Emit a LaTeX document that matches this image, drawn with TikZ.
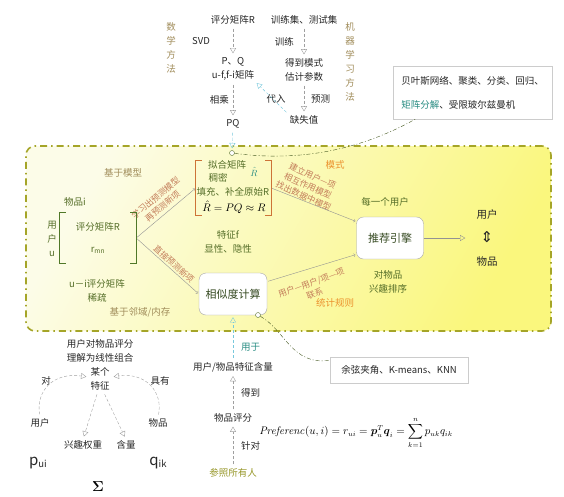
\documentclass[tikz,border=0pt]{standalone}
\usepackage{amsmath, amssymb}
\usepackage[no-math]{fontspec}
\setmainfont{Noto Sans CJK SC}
\newfontfamily\symfont{DejaVu Sans}
\usetikzlibrary{positioning, arrows, shapes, calc}

\definecolor{leafGreen}{RGB}{85,110,40}
\definecolor{tanText}{RGB}{160,140,90}
\definecolor{brownText}{RGB}{195,125,90}
\definecolor{orangeText}{RGB}{235,145,45}
\definecolor{tealText}{RGB}{40,140,130}
\definecolor{cyanLine}{RGB}{120,200,220}
\definecolor{oliveLine}{RGB}{165,165,40}
\definecolor{oliveText}{RGB}{150,150,40}
\definecolor{bracketGreen}{RGB}{80,120,40}
\definecolor{bracketOrange}{RGB}{205,115,55}
\definecolor{boxText}{RGB}{55,75,35}
\definecolor{areaLight}{RGB}{252,252,232}
\definecolor{areaDeep}{RGB}{250,247,125}

\begin{document}
\begin{tikzpicture}[x=1pt, y=-1pt,
	every node/.style={font=\fontsize{9.5}{14}\selectfont, inner sep=1pt},
	plain/.style={text=black!85, align=center},
	greenText/.style={text=leafGreen, align=center},
	tanLabel/.style={text=tanText, align=center},
	brownLabel/.style={text=brownText, align=center, font=\fontsize{8.5}{11}\selectfont},
	orangeLabel/.style={text=orangeText, align=center},
	oliveLabel/.style={text=oliveText, align=center},
	roundbox/.style={rectangle, draw=gray!70, rounded corners=7pt, fill=white, text=boxText, font=\fontsize{11}{13}\selectfont},
	calloutbox/.style={rectangle, draw=gray!40, fill=white, text=black!85},
	regionbox/.style={rectangle, rounded corners=9pt, draw=oliveLine, line width=1.6pt, dash pattern=on 7pt off 4pt on 1.5pt off 4pt, left color=areaLight, right color=areaDeep, shading angle=60},
	knot/.style={circle, draw=leafGreen, fill=white, inner sep=0pt, minimum size=5pt},
	dashArrow/.style={draw=gray!75, dash pattern=on 3pt off 2pt, -open triangle 60, shorten <=3pt, shorten >=3pt},
	cyanArrow/.style={draw=cyanLine, dash pattern=on 3pt off 2pt, -open triangle 60, shorten <=3pt, shorten >=2pt},
	grayArrow/.style={draw=gray!85, -to, shorten <=1pt, shorten >=1pt},
	dashdotLine/.style={draw=leafGreen!80!black, dash pattern=on 4pt off 2pt on 1pt off 2pt}]

	\useasboundingbox (0,0) rectangle (564,496);

	%Area
	\node (modelArea) at (288.5,238.5) [regionbox, minimum width=525pt, minimum height=185pt] {};

	%Nodes - top
	\node (mathTag) at (171,48) [tanLabel] {数\\学\\方\\法};
	\node (mlTag) at (350,62) [tanLabel] {机\\器\\学\\习\\方\\法};
	\node (ratingR) at (233,20) [plain] {评分矩阵R};
	\node (pqMat) at (233,69) [plain] {P、Q\\u-f,f-i矩阵};
	\node (pqProd) at (233,124) [plain] {PQ};
	\node (trainSet) at (304,20) [plain] {训练集、测试集};
	\node (estParam) at (304,70) [plain] {得到模式\\估计参数};
	\node (missVal) at (304,120) [plain] {缺失值};
	\node (subIn) at (276,99) [plain] {代入};

	\node (algoBox) at (472.5,92.5) [calloutbox, minimum width=159pt, minimum height=53pt, align=left] {贝叶斯网络、聚类、分类、回归、\\[10pt]\textcolor{tealText}{矩阵分解}、受限玻尔兹曼机};

	%Nodes - area
	\node (basedModel) at (123,173) [tanLabel] {基于模型};
	\node (basedNbr) at (140,312) [tanLabel] {基于邻域/内存};
	\node (itemI) at (75,202) [greenText] {物品i};
	\node (userU) at (52,239) [greenText] {用\\户\\u};
	\node (matR) at (98,238) [greenText, minimum width=76pt, minimum height=51pt] {评分矩阵R\\[8pt]r\textsubscript{mn}};
	\node (sparse) at (97,291) [greenText] {u－i评分矩阵\\稀疏};

	\node (fitR) at (233.5,188) [minimum width=75pt, minimum height=54pt] {};
	\node (fitTitle) at (227,165) [greenText] {拟合矩阵};
	\node (rHat) at (254,172) [text=tealText] {$\hat{R}$};
	\node (dense) at (218,178) [greenText] {稠密};
	\node (fillIn) at (233,192) [greenText] {填充、补全原始R};
	\node (fitEq) at (234,207) [font=\fontsize{10.5}{12}\selectfont] {$\hat{R}=PQ\approx R$};

	\node (featF) at (228,242) [greenText] {特征f\\显性、隐性};
	\node (simCalc) at (233,294) [roundbox, minimum width=68pt, minimum height=42pt] {相似度计算};
	\node (engine) at (390,238) [roundbox, minimum width=67pt, minimum height=42pt] {推荐引擎};
	\node (eachUser) at (385,202) [greenText] {每一个用户};
	\node (rankItem) at (388,282) [greenText] {对物品\\兴趣排序};
	\node (userItem) at (487,238) [plain, font=\fontsize{10.5}{23.5}\selectfont] {用户\\{\symfont\fontsize{15}{15}\selectfont ⇕}\\物品};
	\node (patternTag) at (335,165) [orangeLabel] {模式};
	\node (statTag) at (335,303) [orangeLabel] {统计规则};

	\node (learnTag) at (159,202) [brownLabel, rotate=40] {学习出预测模型\\再预测新项};
	\node (directTag) at (174,264) [brownLabel, rotate=-42] {直接预测新项};
	\node (interTag) at (308,186) [brownLabel, rotate=-24] {建立用户—项\\相互作用模型\\找出数据中模型};
	\node (linkTag) at (313,288) [brownLabel, rotate=20] {用户—用户/项—项\\联系};

	\node (knotTop) at (232,153) [knot] {};
	\node (knotSim) at (258,315) [knot] {};

	%Nodes - bottom
	\node (cosBox) at (399,370) [calloutbox, minimum width=138pt, minimum height=26pt] {余弦夹角、K-means、KNN};
	\node (featCont) at (233,367) [plain] {用户/物品特征含量};
	\node (itemRating) at (233,418) [plain] {物品评分};
	\node (refAll) at (233,473) [oliveLabel] {参照所有人};
	\node (prefFormula) at (356,433) [font=\fontsize{10.5}{13}\selectfont] {$\displaystyle \mathit{Preferenc}(u,i)=r_{ui}=\boldsymbol{p}_u^T\boldsymbol{q}_i=\sum_{k=1}^{n}p_{uk}q_{ik}$};

	\node (linComb) at (100,351) [plain] {用户对物品评分\\理解为线性组合};
	\node (feature) at (100,379) [plain] {某个\\特征};
	\node (toTag) at (46,381) [plain] {对};
	\node (hasTag) at (160,381) [plain] {具有};
	\node (userN) at (40,423) [plain] {用户};
	\node (itemN) at (158,423) [plain] {物品};
	\node (weight) at (83,445) [plain] {兴趣权重};
	\node (content) at (126,445) [plain] {含量};
	\node (pUI) at (38,463) [plain] {{\fontsize{15}{15}\selectfont p}\raisebox{-0.3ex}{ui}};
	\node (qIK) at (158,463) [plain] {{\fontsize{15}{15}\selectfont q}\raisebox{-0.3ex}{ik}};
	\node (sigmaSum) at (98,487) [font=\fontsize{14}{14}\selectfont] {$\boldsymbol{\Sigma}$};

	%Brackets
	\draw [draw=bracketGreen, line width=1pt] ([xshift=6pt]matR.north west) -| (matR.south west) -- ++(6,0);
	\draw [draw=bracketGreen, line width=1pt] ([xshift=-6pt]matR.north east) -| (matR.south east) -- ++(-6,0);
	\draw [draw=bracketOrange, line width=1pt] ([xshift=6pt]fitR.north west) -| (fitR.south west) -- ++(6,0);
	\draw [draw=bracketOrange, line width=1pt] ([xshift=-6pt]fitR.north east) -| (fitR.south east) -- ++(-6,0);

	%Links - top
	\draw [dashArrow] (ratingR) -- (pqMat) node[midway, left=22pt, text=black!85] {SVD};
	\draw [dashArrow] (trainSet) -- (estParam) node[midway, left=9pt, text=black!85] {训练};
	\draw [dashArrow] (pqMat) -- (pqProd) node[midway, left=3pt, text=black!85] {相乘};
	\draw [dashArrow] (estParam) -- (missVal) node[midway, right=6pt, text=black!85] {预测};
	\draw [cyanArrow] (missVal.north west) -- (pqMat.south east);
	\draw [cyanArrow] (pqProd) -- (knotTop);
	\draw [dashdotLine] (knotTop) .. controls (300,162) and (360,150) .. (algoBox.205.5);

	%Links - area
	\draw [grayArrow] (matR.east) -- (fitR.west);
	\draw [grayArrow] (matR.east) -- (simCalc.west);
	\draw [grayArrow] (fitR.east) -- (engine.154);
	\draw [grayArrow] (simCalc.20) -- (engine.206);
	\draw [draw=gray!85, -open triangle 60, shorten >=10pt] (engine.east) -- (userItem.west);
	\draw [dashdotLine] (knotSim) .. controls (285,330) and (292,366) .. (cosBox.172);

	%Links - bottom
	\draw [cyanArrow] (featCont) -- (simCalc) node[pos=0.3, right=7pt, text=tealText] {用于};
	\draw [dashArrow] (itemRating) -- (featCont) node[midway, right=7pt, text=black!85] {得到};
	\draw [dashArrow] (refAll) -- (itemRating) node[midway, right=7pt, text=black!85] {针对};
	\draw [dashArrow] (userN.north) .. controls (36,392) and (52,372) .. (feature.170);
	\draw [dashArrow] (itemN.north) .. controls (163,392) and (146,372) .. (feature.10);
	\draw [dashArrow] (feature.260) -- (weight.north);
	\draw [dashArrow] (feature.285) -- (content.north);

\end{tikzpicture}
\end{document}
